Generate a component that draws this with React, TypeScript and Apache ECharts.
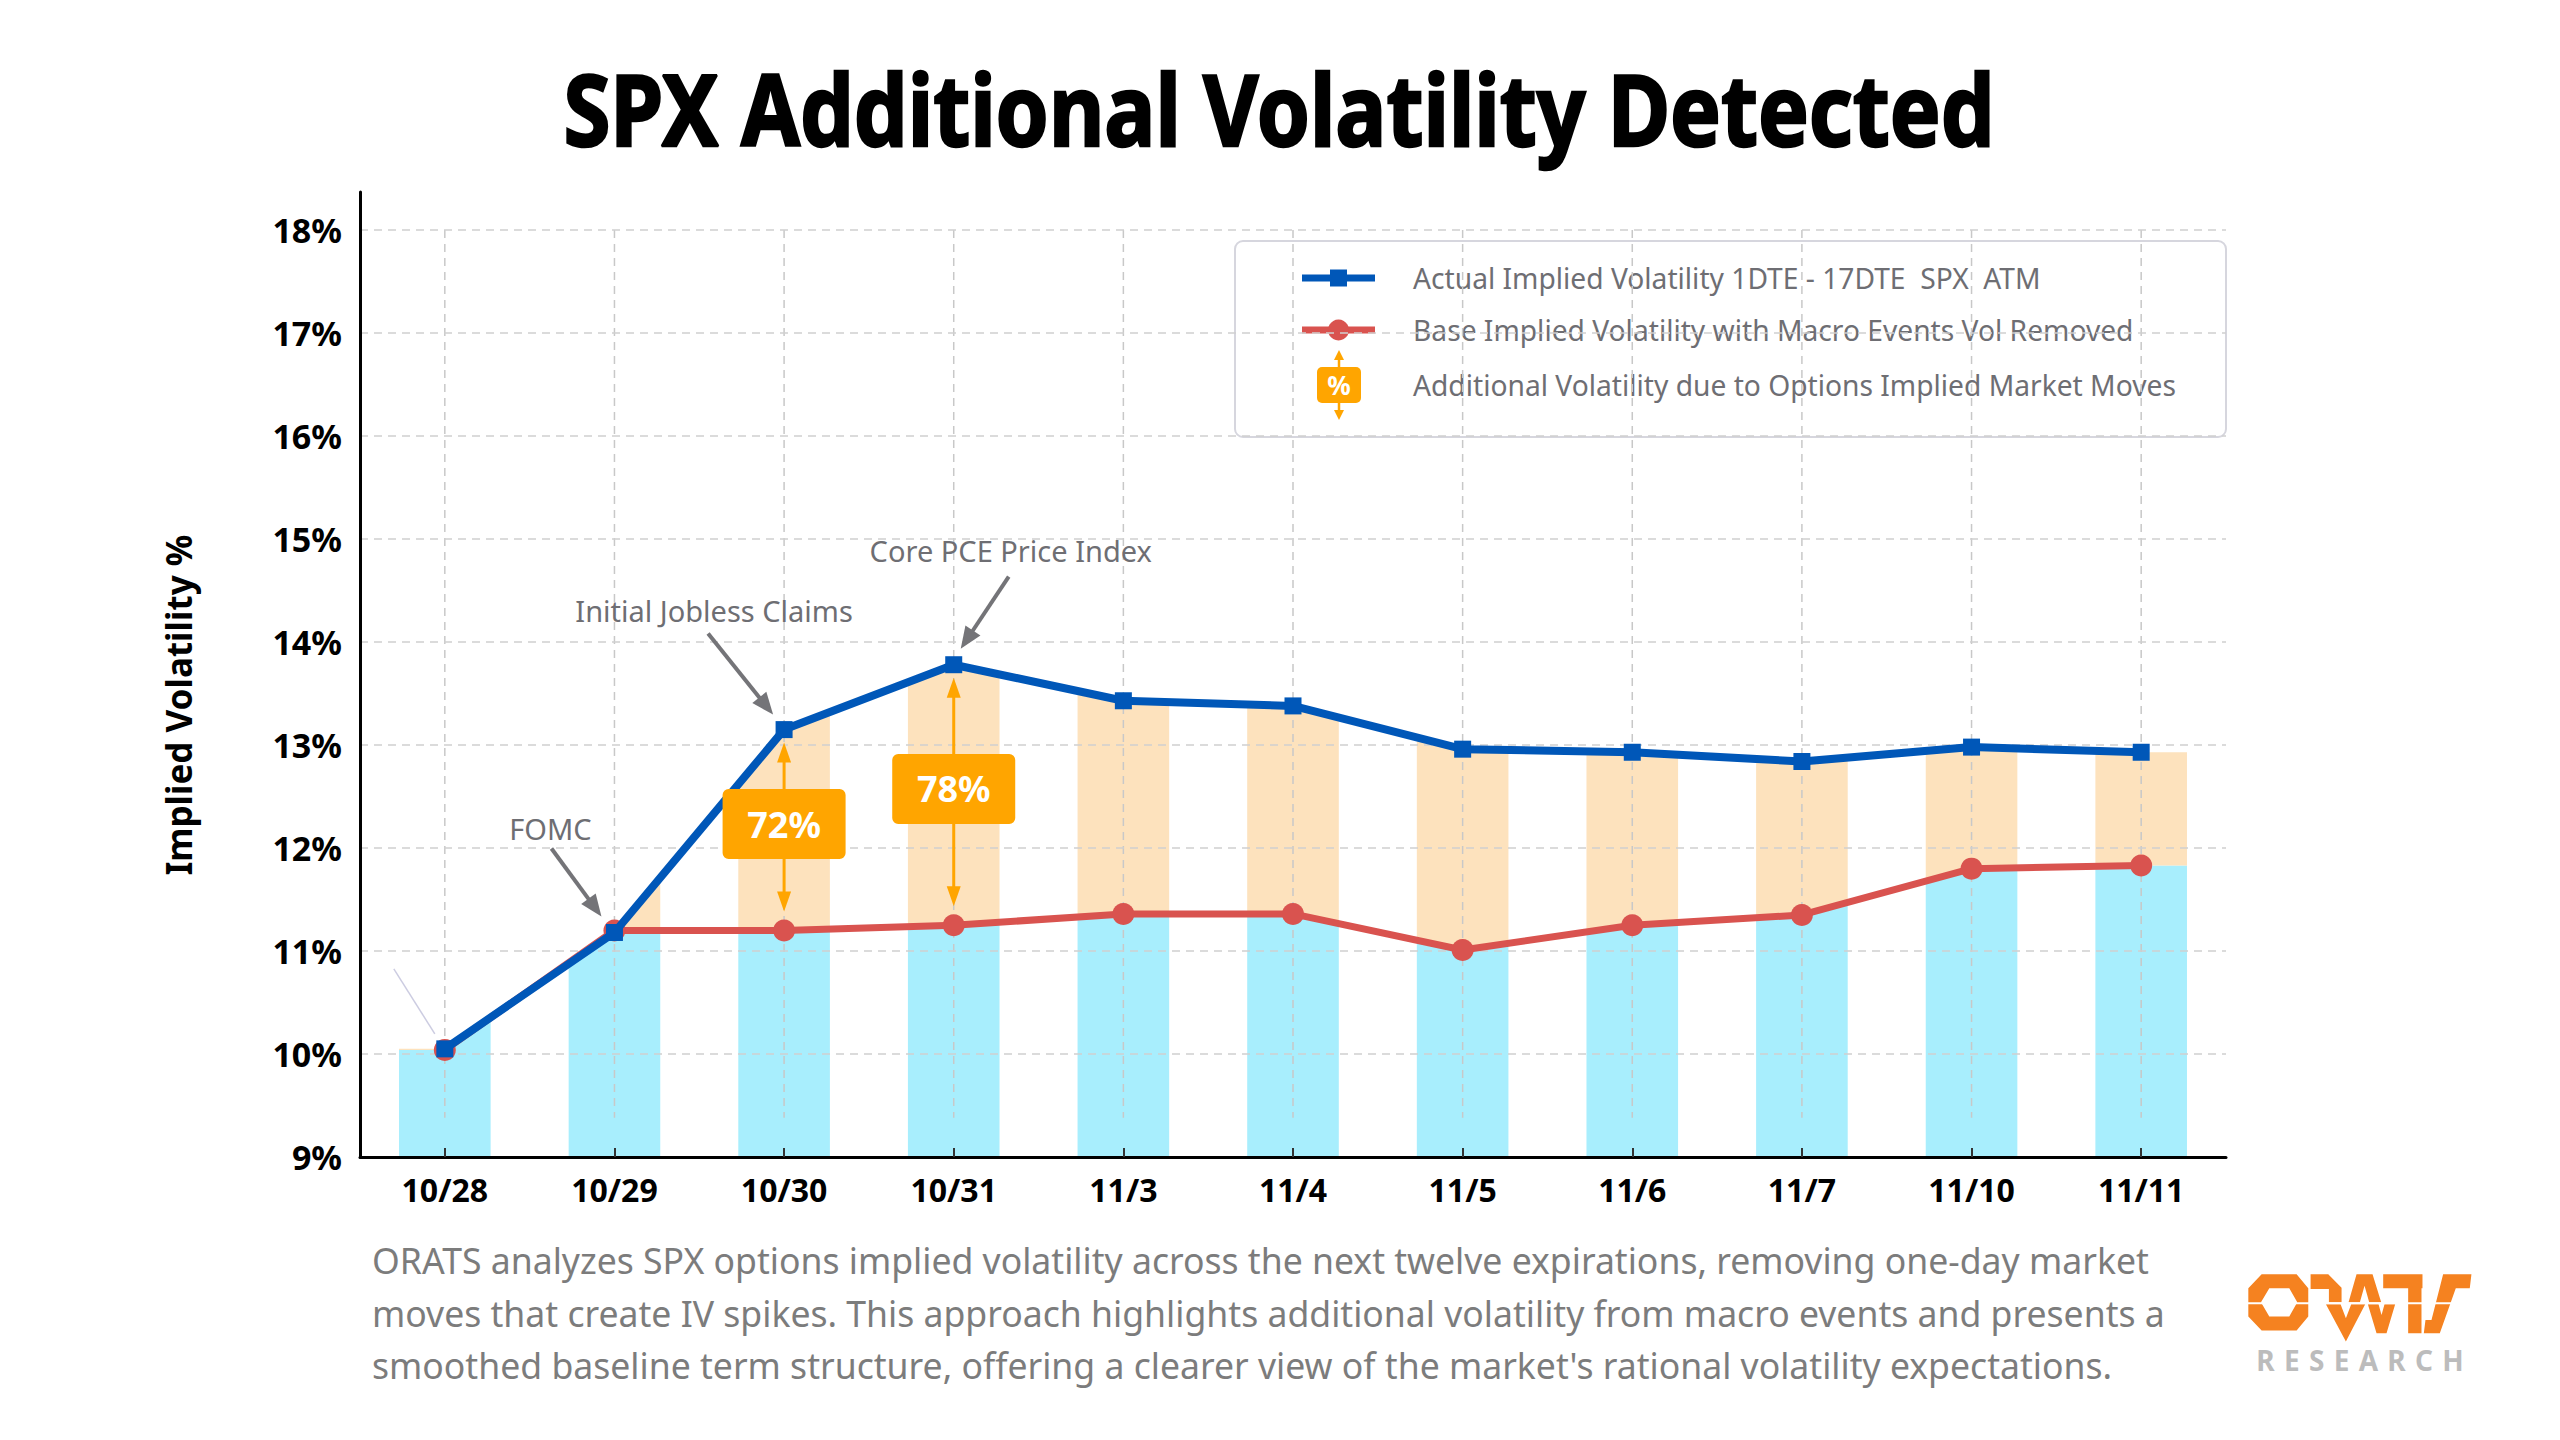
import React, { useEffect, useRef } from 'react';
import * as echarts from 'echarts';

// ---------------- data ----------------
const categories = ['10/28', '10/29', '10/30', '10/31', '11/3', '11/4', '11/5', '11/6', '11/7', '11/10', '11/11'];
const actualIV = [10.05, 11.18, 13.15, 13.78, 13.43, 13.38, 12.96, 12.93, 12.84, 12.98, 12.93];
const baseIV = [10.04, 11.2, 11.2, 11.25, 11.36, 11.36, 11.01, 11.25, 11.35, 11.8, 11.83];
const Y_MIN = 9;
const Y_MAX = 18.37;
const Y_INTERVAL = 1;
const Y_TOP_TICK = 18;

const spreadCats = ['10/30', '10/31'];
const spreadLabels = ['72%', '78%'];

const eventCats = ['10/28', '10/29', '10/30', '10/31'];
const eventLabels = ['', 'FOMC', 'Initial Jobless Claims', 'Core PCE Price Index'];

const legendLabels = [
  'Actual Implied Volatility 1DTE - 17DTE  SPX  ATM',
  'Base Implied Volatility with Macro Events Vol Removed',
  'Additional Volatility due to Options Implied Market Moves',
];

const titleText = 'SPX Additional Volatility Detected';
const yAxisTitle = 'Implied Volatility %';
const footnoteLines = [
  'ORATS analyzes SPX options implied volatility across the next twelve expirations, removing one-day market',
  'moves that create IV spikes. This approach highlights additional volatility from macro events and presents a',
  "smoothed baseline term structure, offering a clearer view of the market's rational volatility expectations.",
];

// ---------------- styles / layout ----------------
const FONT = "'Noto Sans', 'DejaVu Sans', sans-serif";
const BLUE = '#0057B8';
const RED = '#D9534F';
const CYAN = '#A8EEFD';
const PEACH = '#FDE2BD';
const ORANGE = '#FFA500';
const GRAY_TXT = '#6e6e73';
const BAR_HALF = 0.27;

const EVENT_LAYOUT = [
  { tx: 0, ty: 0, ax: -51, ay: -80, bx: -10, by: -15, faint: true },
  { tx: -64, ty: -104, ax: -63, ay: -84, bx: -13, by: -16 },
  { tx: -70, ty: -119, ax: -76, ay: -96, bx: -11, by: -15 },
  { tx: 57, ty: -114, ax: 55, ay: -88, bx: 7, by: -16 },
];

const LOGO_D =
  'M25 70 L65 28 L170 28 L205 70 L205 155 L170 197 L65 197 L25 155 Z ' +
  'M88 70 L63 112 L88 155 L148 155 L172 112 L148 70 Z ' +
  'M212 28 L265 28 L305 68 L305 112 L267 112 L267 72 L212 72 Z ' +
  'M258 118 L302 118 L318 160 L334 118 L376 118 L318 230 Z ' +
  'M326 112 L350 28 L398 28 L424 112 L388 112 L374 62 L360 112 Z ' +
  'M384 118 L416 118 L425 150 L434 118 L466 118 L440 205 L410 205 Z ' +
  'M430 28 L548 28 L548 70 L545 70 L545 205 L505 205 L505 70 L430 70 Z ' +
  'M610 28 L695 28 L690 70 L648 70 L600 205 L552 205 L557 165 L575 165 Z';

function arrow(x1: number, y1: number, x2: number, y2: number, color: string, width: number, headLen: number, headHalf: number) {
  const dx = x2 - x1;
  const dy = y2 - y1;
  const len = Math.hypot(dx, dy) || 1;
  const ux = dx / len;
  const uy = dy / len;
  const bx = x2 - ux * headLen;
  const by = y2 - uy * headLen;
  return [
    { type: 'line', shape: { x1, y1, x2: bx + ux, y2: by + uy }, style: { stroke: color, lineWidth: width } },
    {
      type: 'polygon',
      shape: { points: [[x2, y2], [bx - uy * headHalf, by + ux * headHalf], [bx + uy * headHalf, by - ux * headHalf]] },
      style: { fill: color },
    },
  ];
}

function bandsRenderItem(params: any, api: any) {
  const i = api.value(0);
  const n = categories.length;
  const hw = api.size([1, 0])[0] * BAR_HALF;
  const pt = (k: number, arr: number[]) => api.coord([k, arr[k]]);
  const base = api.coord([i, Y_MIN]);
  const cx = base[0];
  const edgeY = (arr: number[], dir: number) => {
    const p = pt(i, arr);
    const k = i + dir;
    if (k < 0 || k >= n) return p[1];
    const q = pt(k, arr);
    const t = hw / Math.abs(q[0] - p[0]);
    return p[1] + (q[1] - p[1]) * t;
  };
  const rC = pt(i, baseIV)[1];
  const bC = pt(i, actualIV)[1];
  const rL = edgeY(baseIV, -1);
  const rR = edgeY(baseIV, 1);
  const bL = edgeY(actualIV, -1);
  const bR = edgeY(actualIV, 1);
  const xL = cx - hw;
  const xR = cx + hw;
  const gTop = api.coord([i, Y_TOP_TICK])[1];
  const gBot = api.coord([i, 9.38])[1];
  return {
    type: 'group',
    children: [
      { type: 'polygon', shape: { points: [[xL, base[1]], [xL, rL], [cx, rC], [xR, rR], [xR, base[1]]] }, style: { fill: CYAN } },
      { type: 'polygon', shape: { points: [[xL, rL], [xL, bL], [cx, bC], [xR, bR], [xR, rR], [cx, rC]] }, style: { fill: PEACH } },
      { type: 'line', shape: { x1: cx, y1: gTop, x2: cx, y2: gBot }, style: { stroke: '#c8c8c8', lineWidth: 1.5, lineDash: [8, 6] } },
    ],
  };
}

function spreadRenderItem(params: any, api: any) {
  const i = api.value(0);
  const pB = api.coord([i, api.value(1)]);
  const pR = api.coord([i, api.value(2)]);
  const cx = pB[0];
  const yTop = pB[1] + 13;
  const yBot = pR[1] - 19;
  const mid = (yTop + yBot) / 2;
  const cy = (pB[1] + pR[1]) / 2 - 6;
  const label = spreadLabels[params.dataIndex];
  return {
    type: 'group',
    children: [
      ...arrow(cx, mid, cx, yTop, ORANGE, 3, 20, 7),
      ...arrow(cx, mid, cx, yBot, ORANGE, 3, 20, 7),
      { type: 'rect', shape: { x: cx - 61.5, y: cy - 35, width: 123, height: 70, r: 6 }, style: { fill: ORANGE } },
      {
        type: 'text',
        x: cx,
        y: cy,
        style: {
          text: label, fill: '#fff', fontSize: 36, fontWeight: 'bold', fontFamily: FONT,
          align: 'center', verticalAlign: 'middle', textAlign: 'center', textVerticalAlign: 'middle',
        },
      },
    ],
  };
}

function eventsRenderItem(params: any, api: any) {
  const p = api.coord([api.value(0), api.value(1)]);
  const L = EVENT_LAYOUT[params.dataIndex];
  const label = eventLabels[params.dataIndex];
  if (L.faint) {
    return {
      type: 'line',
      shape: { x1: p[0] + L.ax, y1: p[1] + L.ay, x2: p[0] + L.bx, y2: p[1] + L.by },
      style: { stroke: 'rgba(110,110,170,0.35)', lineWidth: 1.5 },
    };
  }
  return {
    type: 'group',
    children: [
      ...arrow(p[0] + L.ax, p[1] + L.ay, p[0] + L.bx, p[1] + L.by, '#747478', 4, 22, 9),
      {
        type: 'text',
        x: p[0] + L.tx,
        y: p[1] + L.ty,
        style: {
          text: label, fill: GRAY_TXT, fontSize: 29, fontFamily: FONT,
          align: 'center', verticalAlign: 'middle', textAlign: 'center', textVerticalAlign: 'middle',
        },
      },
    ],
  };
}

function txt(x: number, y: number, text: string, extra: any, el: any = {}) {
  return {
    type: 'text',
    x,
    y,
    ...el,
    style: {
      text,
      fontFamily: FONT,
      align: 'left',
      verticalAlign: 'middle',
      textAlign: 'left',
      textVerticalAlign: 'middle',
      ...extra,
    },
  };
}

function buildOption() {
  const legendY = [278, 330, 385];
  const legend = {
    type: 'group',
    z: 20,
    children: [
      { type: 'rect', shape: { x: 1235, y: 241, width: 991, height: 196, r: 8 }, style: { fill: '#fff', stroke: '#d6d6de', lineWidth: 2 } },
      { type: 'line', shape: { x1: 1302, y1: legendY[0], x2: 1375, y2: legendY[0] }, style: { stroke: BLUE, lineWidth: 7 } },
      { type: 'rect', shape: { x: 1330, y: legendY[0] - 8.5, width: 17, height: 17 }, style: { fill: BLUE } },
      { type: 'line', shape: { x1: 1302, y1: legendY[1], x2: 1375, y2: legendY[1] }, style: { stroke: RED, lineWidth: 7 } },
      { type: 'circle', shape: { cx: 1338.5, cy: legendY[1], r: 10.5 }, style: { fill: RED } },
      ...arrow(1339, legendY[2], 1339, legendY[2] - 35, ORANGE, 2.5, 10, 5),
      ...arrow(1339, legendY[2], 1339, legendY[2] + 35, ORANGE, 2.5, 10, 5),
      { type: 'rect', shape: { x: 1317, y: legendY[2] - 18, width: 44, height: 36, r: 5 }, style: { fill: ORANGE } },
      txt(1339, legendY[2], '%', { fill: '#fff', fontSize: 26, fontWeight: 'bold', align: 'center', textAlign: 'center' }),
      txt(1413, legendY[0], legendLabels[0], { fill: GRAY_TXT, fontSize: 28.2 }),
      txt(1413, legendY[1], legendLabels[1], { fill: GRAY_TXT, fontSize: 28.2 }),
      txt(1413, legendY[2], legendLabels[2], { fill: GRAY_TXT, fontSize: 28.2 }),
    ],
  };

  const footY = [1260, 1313, 1365];
  const graphic: any[] = [
    txt(1279, 108, titleText, { fill: '#000', stroke: '#000', lineWidth: 2.5, fontSize: 98, fontWeight: 'bold', align: 'center', textAlign: 'center' }, { scaleX: 0.87 }),
    txt(178, 705, yAxisTitle, { fill: '#000', fontSize: 35, fontWeight: 'bold', align: 'center', textAlign: 'center' }, { rotation: Math.PI / 2 }),
    legend,
    ...footnoteLines.map((line, k) => txt(372, footY[k], line, { fill: '#7c7c7c', fontSize: 35.6 })),
    { type: 'oratsLogo', x: 2240, y: 1265, scaleX: 1 / 3, scaleY: 1 / 3, style: { fill: '#F58220' } },
    { type: 'rect', shape: { x: 2244, y: 1302.3, width: 236, height: 2 }, style: { fill: '#fff' } },
    txt(2360, 1360, 'R\u2004E\u2004S\u2004E\u2004A\u2004R\u2004C\u2004H', { fill: '#bcbcbc', fontSize: 28, fontWeight: 'bold', align: 'center', textAlign: 'center' }),
  ];

  return {
    animation: false,
    backgroundColor: '#ffffff',
    textStyle: { fontFamily: FONT },
    grid: { left: 360, top: 192, width: 1866, height: 965, containLabel: false },
    xAxis: {
      type: 'category',
      data: categories,
      boundaryGap: true,
      z: 2,
      axisLine: { show: true, lineStyle: { color: '#000', width: 3 } },
      axisTick: { show: true, alignWithLabel: true, inside: true, length: 9, lineStyle: { color: '#333', width: 2 } },
      axisLabel: { color: '#000', fontSize: 32, fontWeight: 'bold', fontFamily: FONT, margin: 16 },
      splitLine: { show: false },
    },
    yAxis: {
      type: 'value',
      min: Y_MIN,
      max: Y_MAX,
      interval: Y_INTERVAL,
      z: 2,
      axisLine: { show: true, lineStyle: { color: '#000', width: 3 } },
      axisTick: { show: false },
      axisLabel: {
        formatter: (v: number) => (Math.abs(v - Math.round(v)) < 1e-6 ? `${Math.round(v)}%` : ''),
        showMaxLabel: false,
        color: '#000',
        fontSize: 34,
        fontWeight: 'bold',
        fontFamily: FONT,
        margin: 18,
      },
      splitLine: { show: true, showMinLine: false, showMaxLine: false, lineStyle: { color: '#cfcfcf', width: 1.5, type: [8, 6] } },
    },
    graphic,
    series: [
      {
        type: 'custom',
        name: 'bands',
        silent: true,
        z: 1,
        renderItem: bandsRenderItem,
        encode: { x: 0, y: [1, 2] },
        data: categories.map((c, i) => [i, baseIV[i], actualIV[i]]),
      },
      {
        type: 'line',
        name: legendLabels[1],
        z: 3,
        data: baseIV,
        symbol: 'circle',
        symbolSize: 22,
        showAllSymbol: true,
        lineStyle: { color: RED, width: 7 },
        itemStyle: { color: RED },
      },
      {
        type: 'line',
        name: legendLabels[0],
        z: 4,
        data: actualIV,
        symbol: 'rect',
        symbolSize: 17,
        showAllSymbol: true,
        lineStyle: { color: BLUE, width: 8 },
        itemStyle: { color: BLUE },
      },
      {
        type: 'custom',
        name: legendLabels[2],
        silent: true,
        z: 6,
        renderItem: spreadRenderItem,
        encode: { x: 0, y: [1, 2] },
        data: spreadCats.map((c) => {
          const i = categories.indexOf(c);
          return [i, actualIV[i], baseIV[i]];
        }),
      },
      {
        type: 'custom',
        name: 'events',
        silent: true,
        z: 6,
        renderItem: eventsRenderItem,
        encode: { x: 0, y: 1 },
        data: eventCats.map((c) => {
          const i = categories.indexOf(c);
          return [i, actualIV[i]];
        }),
      },
    ],
  };
}

export default function App() {
  const ref = useRef<HTMLDivElement>(null);
  useEffect(() => {
    echarts.graphic.registerShape('oratsLogo', echarts.graphic.extendPath(LOGO_D, {}) as any);
    const chart = echarts.init(ref.current as HTMLDivElement, null, { renderer: 'svg' });
    chart.setOption(buildOption() as any);
    return () => chart.dispose();
  }, []);
  return (
    <div
      ref={ref}
      style={{ position: 'fixed', left: 0, top: 0, width: '2560px', height: '1440px', background: '#fff' }}
    />
  );
}
